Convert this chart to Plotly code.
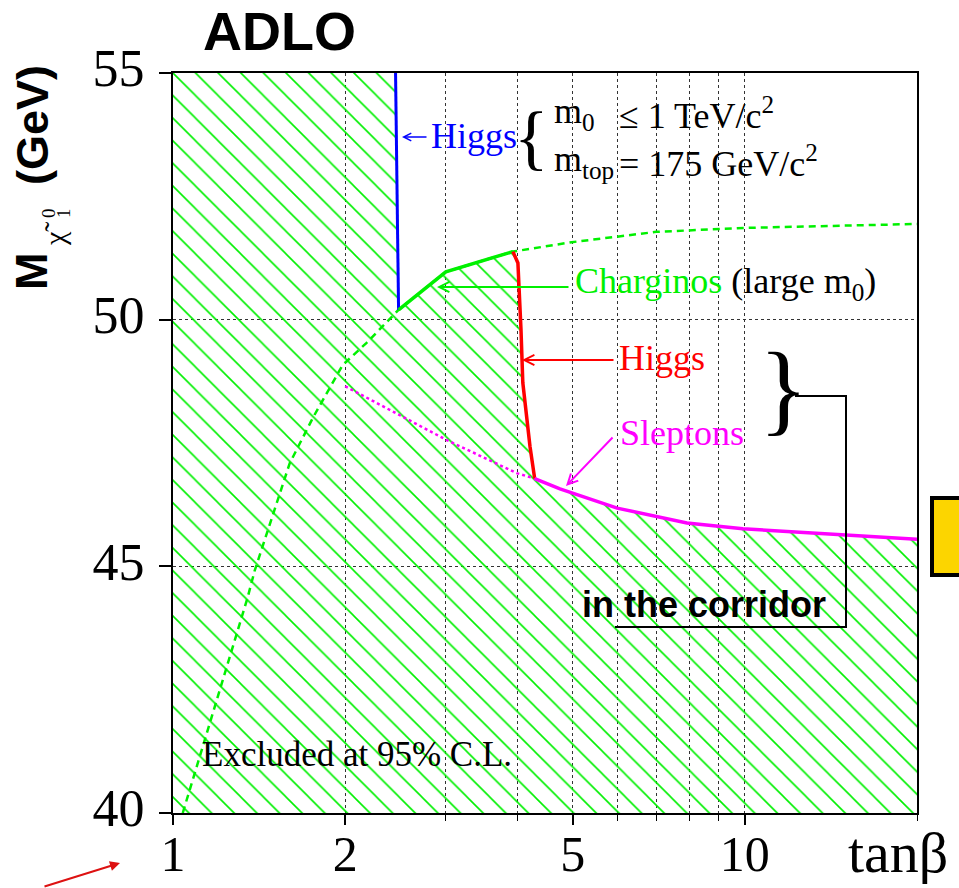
import math
import plotly.graph_objects as go

# ---- exclusion boundaries (tan(beta), neutralino mass in GeV) ----
higgs_blue_tanb = [2.45, 2.48]
higgs_blue_m = [55.0, 50.2]

chargino_tanb = [2.48, 3.0, 3.93]
chargino_m = [50.2, 50.97, 51.38]

higgs_red_tanb = [3.93, 4.01, 4.06, 4.09, 4.21, 4.29]
higgs_red_m = [51.38, 51.15, 49.80, 48.72, 47.43, 46.78]

slepton_tanb = [4.29, 4.75, 5.98, 7.92, 9.92, 14.8, 20.0]
slepton_m = [46.78, 46.57, 46.18, 45.88, 45.76, 45.65, 45.55]

slepton_low_tanb = [2.0, 3.01, 3.99, 4.29]
slepton_low_m = [48.65, 47.56, 46.89, 46.78]

chargino_large_m0_tanb = [1.04, 1.35, 1.39, 1.50, 1.60, 1.76, 1.98, 2.18, 2.48,
                          3.0, 3.93, 4.98, 7.0, 10.0, 15.9, 20.0]
chargino_large_m0_m = [40.0, 44.36, 44.92, 46.08, 47.09, 48.03, 49.08, 49.53, 50.2,
                       50.97, 51.38, 51.57, 51.78, 51.86, 51.92, 51.94]

x_tickvals = [1, 2, 5, 10]
x_ticktext = ["1", "2", "5", "10"]
x_minor_tickvals = [3, 4, 6, 7, 8, 9, 20]
y_tickvals = [40, 45, 50, 55]

X_MIN, X_MAX = 1.0, 20.0
Y_MIN, Y_MAX = 40.0, 55.0

SERIF = "Liberation Serif, Times New Roman, serif"
SANS = "Liberation Sans"
GREEN = "#00f000"
BLUE = "#0000ff"
RED = "#ff0000"
MAGENTA = "#ff00ff"

# figure geometry (pixels) and helpers mapping pixel positions to paper coords
W, H = 959, 888
L, R, T, B = 173, 917, 73, 813


def px(xp):
    return (xp - L) / (R - L)


def py(yp):
    return (B - yp) / (B - T)


# closed outline of the excluded region
region_x = ([X_MIN, X_MIN] + higgs_blue_tanb + chargino_tanb[1:] + higgs_red_tanb[1:]
            + slepton_tanb[1:] + [X_MAX])
region_y = ([Y_MIN, Y_MAX] + higgs_blue_m + chargino_m[1:] + higgs_red_m[1:]
            + slepton_m[1:] + [Y_MIN])

fig = go.Figure()

fig.add_trace(go.Scatter(
    x=region_x, y=region_y, mode="none", fill="toself",
    fillcolor="rgba(0,0,0,0)",
    fillpattern=dict(shape="\\", fgcolor=GREEN, bgcolor="rgba(0,0,0,0)",
                     size=16, solidity=0.1, fillmode="replace"),
    hoverinfo="skip", showlegend=False,
))

fig.add_trace(go.Scatter(
    x=chargino_large_m0_tanb, y=chargino_large_m0_m, mode="lines",
    line=dict(color=GREEN, width=2.5, dash="7px,5px"), showlegend=False,
))
fig.add_trace(go.Scatter(
    x=slepton_low_tanb, y=slepton_low_m, mode="lines",
    line=dict(color=MAGENTA, width=2.5, dash="dot"), showlegend=False,
))
fig.add_trace(go.Scatter(
    x=higgs_blue_tanb, y=higgs_blue_m, mode="lines",
    line=dict(color=BLUE, width=3), showlegend=False,
))
fig.add_trace(go.Scatter(
    x=chargino_tanb, y=chargino_m, mode="lines",
    line=dict(color=GREEN, width=3.5), showlegend=False,
))
fig.add_trace(go.Scatter(
    x=higgs_red_tanb, y=higgs_red_m, mode="lines",
    line=dict(color=RED, width=3.5), showlegend=False,
))
fig.add_trace(go.Scatter(
    x=slepton_tanb, y=slepton_m, mode="lines",
    line=dict(color=MAGENTA, width=3.5), showlegend=False,
))

annotations = []


def label(text, x, y, size=36, color="black", family=SERIF, xanchor="left",
          yanchor="middle", angle=0):
    annotations.append(dict(
        text=text, x=px(x), y=py(y), xref="paper", yref="paper",
        xanchor=xanchor, yanchor=yanchor, showarrow=False, textangle=angle,
        font=dict(family=family, size=size, color=color),
    ))


def arrow(tip_x, tip_y, tail_x, tail_y, color, head=5, width=2, size=1.0):
    annotations.append(dict(
        text="", x=px(tip_x), y=py(tip_y), xref="paper", yref="paper",
        ax=tail_x - tip_x, ay=tail_y - tip_y, axref="pixel", ayref="pixel",
        showarrow=True, arrowhead=head, arrowwidth=width, arrowcolor=color,
        arrowsize=size,
    ))


label("<b>ADLO</b>", 279, 31, size=54, family=SANS, xanchor="center")

# vertical axis title: M, neutralino symbol with stacked 0 / 1 indices, (GeV)
label("<b>M</b>", 31, 271, size=45, family=SANS, xanchor="center", angle=-90)
label("χ̃", 54, 234, size=30, xanchor="center", angle=-90)
label("0", 49, 213, size=19, xanchor="center", angle=-90)
label("1", 64, 213, size=19, xanchor="center", angle=-90)
label("<b>(GeV)</b>", 33, 125, size=45, family=SANS, xanchor="center", angle=-90)

label("tanβ", 846, 852, size=58)

label("Higgs", 429, 136, color=BLUE)
arrow(402, 137, 428, 137, BLUE, width=1.5)
label("{", 531, 137, size=72, xanchor="center")
label("m<sub>0</sub>", 552, 113)
label("≤ 1 TeV/c<sup>2</sup>", 617, 113)
label("m<sub>top</sub>", 552, 161)
label("= 175 GeV/c<sup>2</sup>", 617, 161)

label('<span style="color:%s">Charginos</span> (large m<sub>0</sub>)' % GREEN, 573, 283)
arrow(437, 287, 570, 287, GREEN)

label("Higgs", 617, 358, color=RED)
arrow(522, 360, 615, 360, RED)

label("Sleptons", 618, 433, color=MAGENTA)
arrow(566, 486, 614, 436, MAGENTA)

label("}", 783, 387, size=102, xanchor="center")
label("<b>in the corridor</b>", 580, 604, family=SANS)
label("Excluded at 95% C.L.", 200, 754, size=35)

arrow(120, 863, 43, 887, "#dd1111", head=2, width=2)

shapes = [
    # bracket joining the brace to the corridor label
    dict(type="path", xref="paper", yref="paper",
         path="M %f,%f L %f,%f L %f,%f L %f,%f" % (
             px(795), py(396), px(846), py(396), px(846), py(627), px(615), py(627)),
         line=dict(color="black", width=2)),
    # yellow marker box at the right edge
    dict(type="rect", xref="paper", yref="paper",
         x0=px(932), x1=px(985), y0=py(575), y1=py(498),
         fillcolor="#fcd500", line=dict(color="black", width=4)),
]

fig.update_layout(
    width=W, height=H,
    margin=dict(l=L, r=W - R, t=T, b=H - B, autoexpand=False),
    paper_bgcolor="white", plot_bgcolor="white",
    showlegend=False,
    annotations=annotations,
    shapes=shapes,
    xaxis=dict(
        type="log", range=[math.log10(X_MIN), math.log10(X_MAX)],
        automargin=False,
        tickmode="array", tickvals=x_tickvals, ticktext=x_ticktext,
        ticks="outside", ticklen=10, tickwidth=1.5, tickcolor="black",
        showgrid=True, gridcolor="#333", griddash="dot", gridwidth=1,
        minor=dict(tickmode="array", tickvals=x_minor_tickvals, ticks="outside",
                   ticklen=6, tickwidth=1, tickcolor="black", showgrid=True,
                   gridcolor="#333", griddash="dot", gridwidth=1),
        showline=True, linecolor="black", linewidth=2, mirror=True,
        tickfont=dict(family=SERIF, size=50, color="black"),
        ticklabelstandoff=-14, zeroline=False,
    ),
    yaxis=dict(
        range=[Y_MIN, Y_MAX], automargin=False,
        tickmode="array", tickvals=y_tickvals,
        ticks="outside", ticklen=12, tickwidth=1.5, tickcolor="black",
        showgrid=True, gridcolor="#333", griddash="dot", gridwidth=1,
        showline=True, linecolor="black", linewidth=2, mirror=True,
        tickfont=dict(family=SERIF, size=52, color="black"),
        ticklabelstandoff=4, ticklabelshift=-5, zeroline=False,
    ),
)

fig.write_html("out.html")
